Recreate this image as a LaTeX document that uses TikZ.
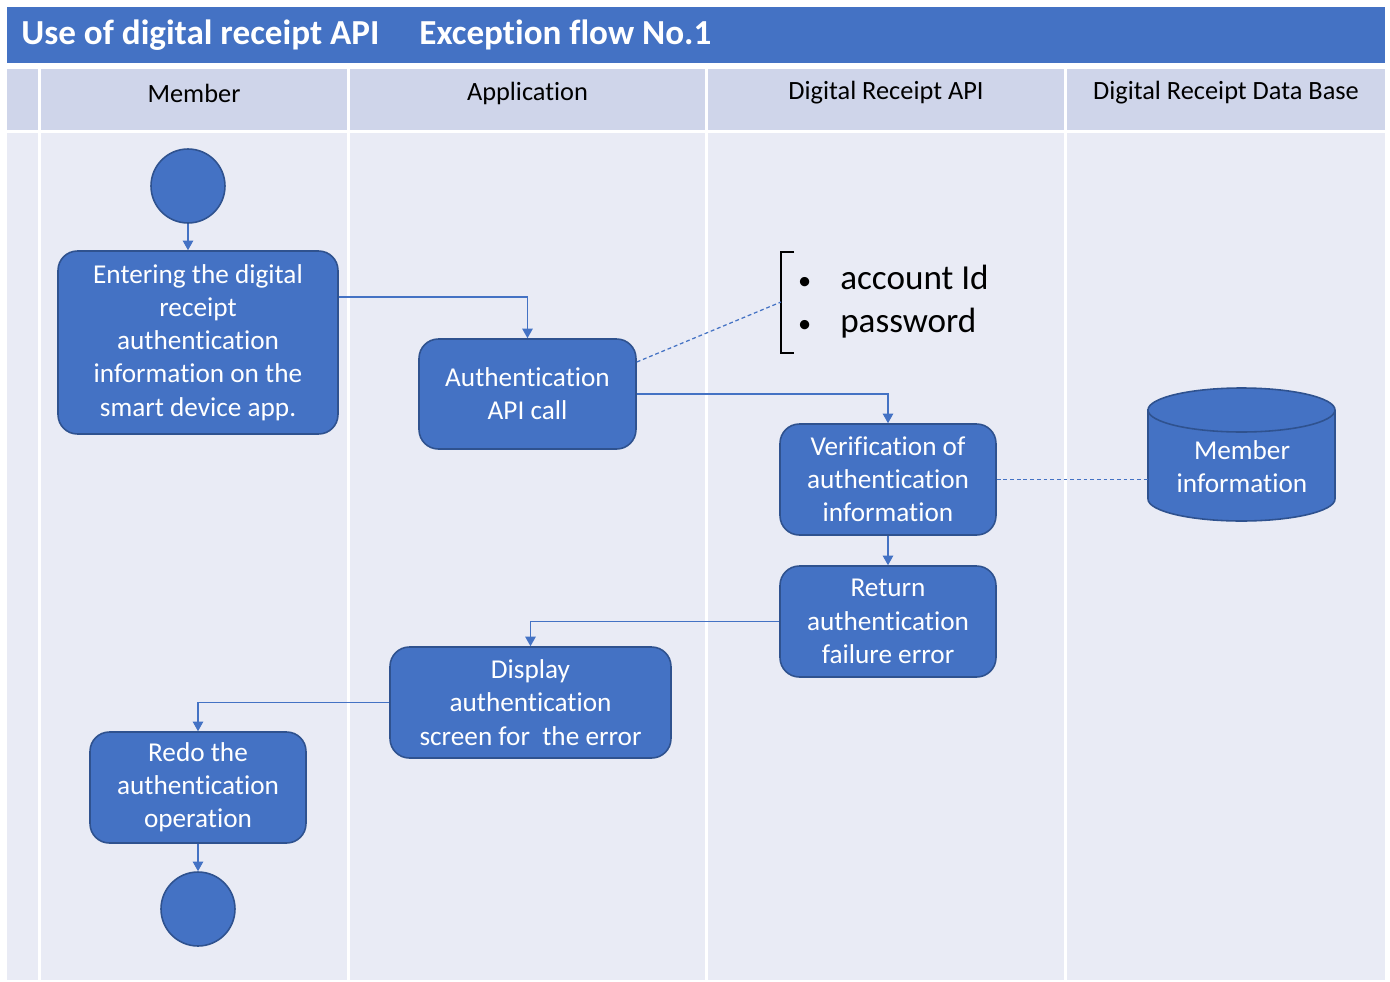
\documentclass[tikz,border=0pt]{standalone}
\usepackage{fontspec}
\setmainfont{Carlito}[Ligatures=NoCommon]
\usetikzlibrary{arrows.meta}
\definecolor{titleBlue}{RGB}{68,114,196}
\definecolor{edgeBlue}{RGB}{47,82,143}
\definecolor{headGray}{RGB}{207,213,234}
\definecolor{laneGray}{RGB}{233,235,245}
\newcommand{\credbullet}{\makebox[25pt][l]{\hspace{1pt}\fontsize{15}{15}\selectfont•}}

\begin{document}
\begin{tikzpicture}[x=0.02cm, y=-0.02cm,
  action/.style={draw=edgeBlue, line width=0.9pt, fill=titleBlue, rounded corners=11pt,
    text=white, align=center, font=\fontsize{15.5}{18.9}\selectfont, inner sep=2pt},
  dot/.style={circle, draw=edgeBlue, line width=0.9pt, fill=titleBlue, minimum size=1.48cm, inner sep=0pt},
  flow/.style={titleBlue, line width=0.7pt, -{Triangle[width=6pt,length=5.5pt]}},
  link/.style={titleBlue, line width=0.7pt, dash pattern=on 2.2pt off 1.6pt},
  lanehead/.style={font=\fontsize{15}{18}\selectfont, inner sep=0pt}
]

% Page and frame
\useasboundingbox (0,0) rectangle (1390,981);
\fill[white] (0,0) rectangle (1390,981);

% Title bar
\fill[titleBlue] (7,7) rectangle (1385,63);
\node[white, font=\fontsize{20}{24}\bfseries, anchor=west, inner sep=0pt] (title) at (21,35) {Use of digital receipt API};
\node[white, font=\fontsize{20}{24}\bfseries, anchor=west, inner sep=0pt] (flowno) at (419,35) {Exception flow No.1};

% Swim lanes (header cells and bodies)
\fill[headGray] (7,69) rectangle (38,130);
\fill[laneGray] (7,133) rectangle (38,980);
\foreach \xa/\xb/\lane in {41/347/Member, 350/705/Application, 708/1064/Digital Receipt API, 1067/1385/Digital Receipt Data Base} {
  \fill[headGray] (\xa,69) rectangle (\xb,130);
  \fill[laneGray] (\xa,133) rectangle (\xb,980);
  \node[lanehead] at ({(\xa+\xb)/2},93) {\lane};
}

% Start and end
\node[dot] (start) at (188,186) {};
\node[dot] (stop) at (198,909) {};

% Actions
\node[action, minimum width=5.6cm, minimum height=3.66cm] (entry) at (198,342.5)
  {Entering the digital\\receipt\\authentication\\information on the\\smart device app.};
\node[action, minimum width=4.34cm, minimum height=2.2cm] (apicall) at (527.5,394)
  {Authentication\\API call};
\node[action, minimum width=4.32cm, minimum height=2.22cm] (verify) at (888,479.5)
  {Verification of\\authentication\\information};
\node[action, minimum width=4.32cm, minimum height=2.22cm] (failure) at (888,621.5)
  {Return\\authentication\\failure error};
\node[action, minimum width=5.62cm, minimum height=2.22cm] (display) at (530.5,702.5)
  {Display\\authentication\\screen for\ \ the error};
\node[action, minimum width=4.32cm, minimum height=2.22cm] (redo) at (198,787.5)
  {Redo the\\authentication\\operation};

% Data base cylinder
\node[minimum width=3.74cm, minimum height=2.66cm, inner sep=0pt] (db) at (1241.5,454.5) {};
\filldraw[fill=titleBlue, draw=edgeBlue, line width=0.9pt]
  (1148,410) -- (1148,499) arc (180:360:1.87cm and 0.44cm) -- (1335,410) arc (0:180:1.87cm and 0.44cm) -- cycle;
\draw[edgeBlue, line width=0.9pt] (1148,410) arc (180:360:1.87cm and 0.44cm);
\node[text=white, align=center, font=\fontsize{15.5}{18.9}\selectfont] (dbtext) at (1242,467) {Member\\information};

% Credentials note with bracket
\node[anchor=west, align=left, inner sep=0pt, font=\fontsize{20}{24.4}\selectfont] (creds) at (796,301.5)
  {\credbullet account Id\\\credbullet password};
\draw[black, line width=1.3pt] (794,252) -- (781,252) -- (781,353) -- (794,353);
\coordinate (brk) at (781,302);

% Flow
\draw[flow] (start.south) -- (start.south |- entry.north);
\draw[flow] ([yshift=0.91cm]entry.east) -| (apicall.north);
\draw[flow] (apicall.east) -| (verify.north);
\draw[flow] (verify.south) -- (failure.north);
\draw[flow] (failure.west) -| (display.north);
\draw[flow] (display.west) -| (redo.north);
\draw[flow] (redo.south) -- (stop.north);

% Dotted references
\draw[link] ([yshift=0.64cm]apicall.east) -- (brk);
\draw[link] (verify.east) -- (verify.east -| db.west);

\end{tikzpicture}
\end{document}
